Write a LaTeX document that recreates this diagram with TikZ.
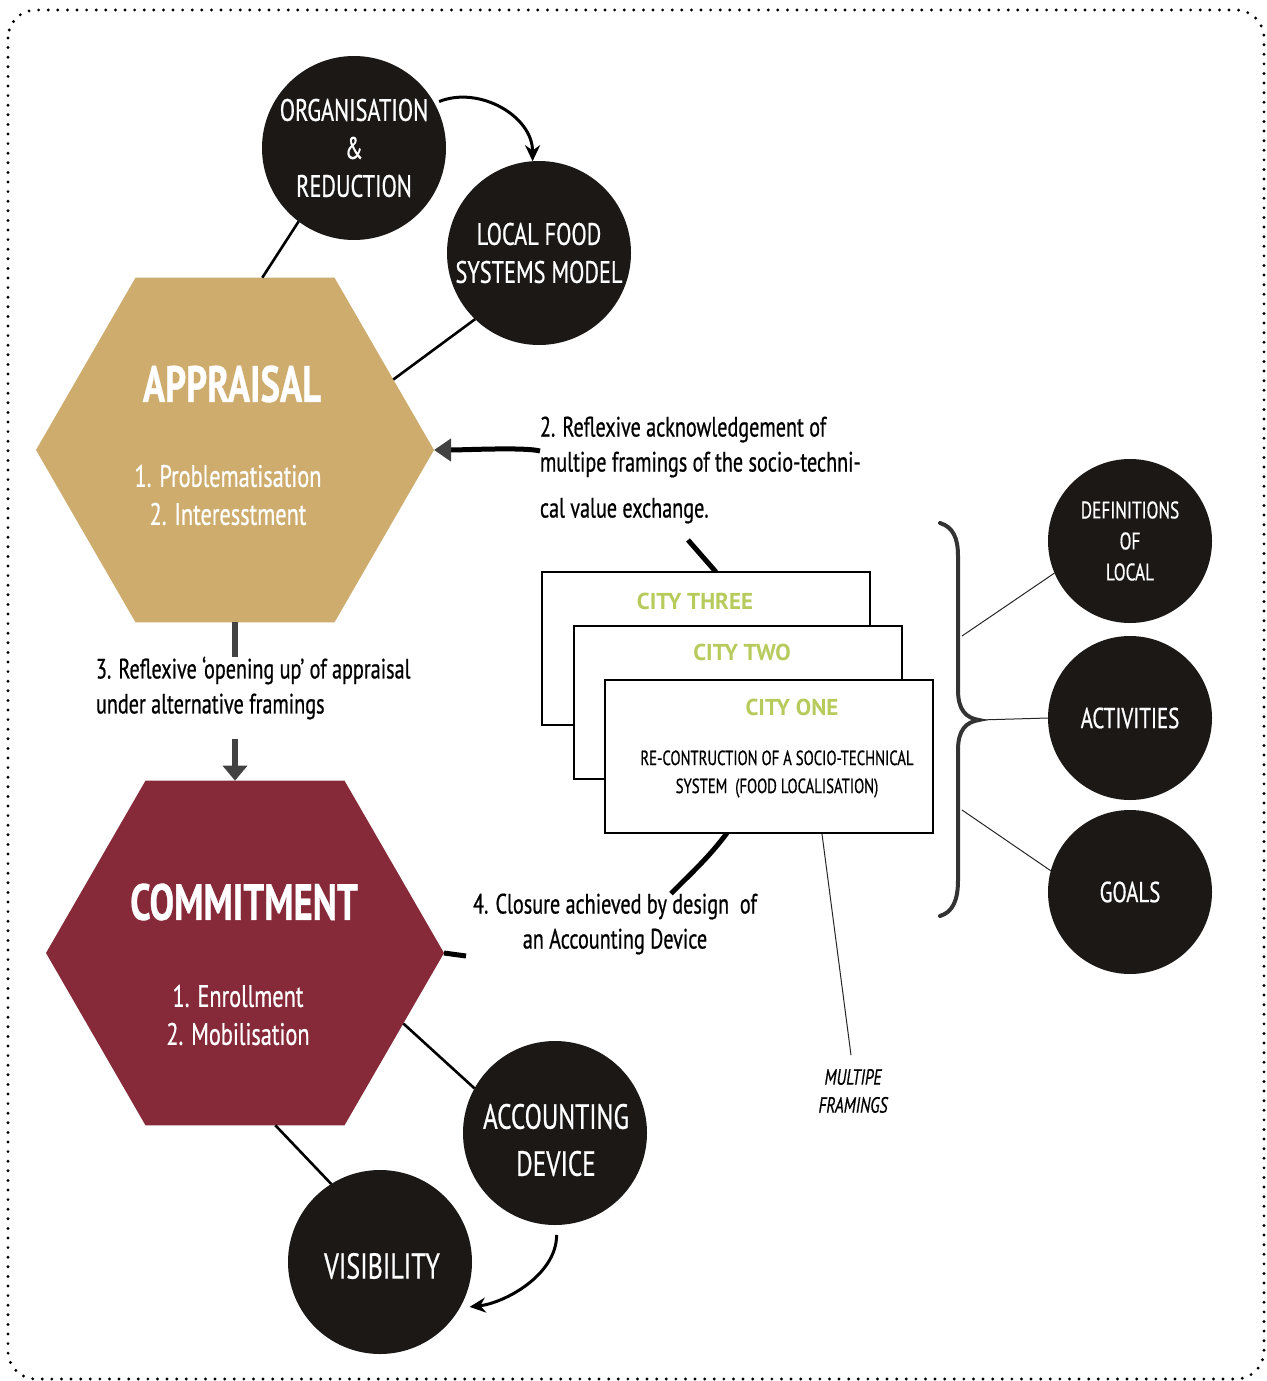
\documentclass[tikz,border=0pt]{standalone}
\usepackage{fontspec}
\setmainfont{PT Sans}[FakeStretch=0.72,FakeBold=0.6]
\newfontfamily\widefont{PT Sans}
\usetikzlibrary{shapes.geometric,arrows.meta,calc}

\definecolor{appraisalTan}{HTML}{CDAC6E}
\definecolor{commitRed}{HTML}{862939}
\definecolor{ink}{HTML}{1B1816}
\definecolor{cityGreen}{HTML}{B7CB5C}
\definecolor{tipGray}{HTML}{424242}

\newcommand{\pxfont}[2]{\fontsize{#1}{#2}\selectfont}

\begin{document}
\begin{tikzpicture}[x=1pt,y=-1pt,
  hexa/.style={regular polygon, regular polygon sides=6, minimum size=398pt,
    inner sep=0pt, outer sep=0pt},
  blob/.style={circle, fill=ink, text=white, inner sep=0pt, outer sep=0pt, align=center},
  txt/.style={inner sep=0pt, outer sep=0pt},
  citybox/.style={rectangle, draw=black, line width=2pt, fill=white,
    minimum width=328pt, minimum height=153pt, inner sep=0pt},
  citytitle/.style={txt, text=cityGreen, font=\widefont\bfseries\pxfont{23}{27}},
  link/.style={line width=2.6pt, draw=black},
  heavy/.style={line width=5pt, draw=black},
  hairline/.style={line width=1pt, draw=black!85},
  tick/.style={-{Stealth[length=16pt,width=15pt]}},
]
\useasboundingbox (0,0) rectangle (1266,1381);

% dotted frame
\draw[line width=3.2pt, line cap=round, dash pattern=on 0pt off 9.6pt,
  rounded corners=28pt] (8,10) rectangle (1264,1379);

% the two stages
\node[hexa, fill=appraisalTan] (appraisal) at (235,450) {};
\node[hexa, fill=commitRed] (commit) at (245,953) {};

\node[txt, text=white, font=\bfseries\pxfont{51}{58}] (appraisal-title) at (232,384) {APPRAISAL};
\node[txt, text=white, align=center, font=\pxfont{31}{38}] (appraisal-steps) at (228,495)
  {1. Problematisation\\2. Interesstment};
\node[txt, text=white, font=\bfseries\pxfont{51}{58}] (commit-title) at (244,902) {COMMITMENT};
\node[txt, text=white, align=center, font=\pxfont{31}{38}] (commit-steps) at (238,1015)
  {1. Enrollment\\2. Mobilisation};

% black discs
\node[blob, minimum size=184pt, font=\pxfont{31}{38}] (org) at (354,148)
  {ORGANISATION\\\&\\REDUCTION};
\node[blob, minimum size=184pt, font=\pxfont{31}{38}] (lfsm) at (539,253)
  {LOCAL FOOD\\SYSTEMS MODEL};
\node[blob, minimum size=164pt, font=\pxfont{24}{31}] (defs) at (1130,541)
  {DEFINITIONS\\OF\\LOCAL};
\node[blob, minimum size=164pt, font=\pxfont{29}{34}] (acts) at (1130,718) {ACTIVITIES};
\node[blob, minimum size=164pt, font=\pxfont{29}{34}] (goals) at (1130,892) {GOALS};
\node[blob, minimum size=184pt] (acc) at (555,1133) {};
\node[txt, text=white, align=center, font=\pxfont{35}{47}] (acc-text) at (556,1140)
  {ACCOUNTING\\DEVICE};
\node[blob, minimum size=184pt] (vis) at (380,1262) {};
\node[txt, text=white, font=\pxfont{36}{44}] (vis-text) at (382,1266) {VISIBILITY};

% links between discs and stages
\draw[link] (org.233) -- (appraisal.81.5);
\draw[link] (lfsm.226) -- (appraisal.24.6);
\draw[link] (commit.-24.6) -- (acc.151);
\draw[link] (commit.-80) -- (vis.122);
\draw[link, line width=3pt, tick, shorten <=5pt] (org.29)
  .. controls +(45,-18) and +(0,-45) .. (lfsm.94);
\draw[link, line width=3pt, tick, shorten <=10pt, shorten >=10pt] (acc.-89)
  .. controls +(0,50) and +(45,-5) .. (vis.-30);

% step labels
\node[txt, anchor=west, align=left, font=\pxfont{28}{35}] (lbl2) at (540,470)
  {2. Reflexive acknowledgement of\\multipe framings of the socio-techni-\\[11pt]cal value exchange.};
\node[txt, anchor=west, align=left, font=\pxfont{28}{35}] (lbl3) at (96,688)
  {3. Reflexive ‘opening up’ of appraisal\\under alternative framings};
\node[txt, align=center, font=\pxfont{28}{35}] (lbl4) at (615,924)
  {4. Closure achieved by design\ \ of\\an Accounting Device};

% step 2: back into appraisal
\coordinate (a2start) at (540,451);
\draw[heavy, -{Triangle[length=17pt,width=22pt,color=tipGray]}] (a2start)
  .. controls +(-15,-4) and +(30,0) .. (appraisal.east);

% step 3: appraisal down to commitment
\draw[line width=6pt, draw=tipGray] (appraisal.south) -- (appraisal.south |- lbl3.north);
\draw[line width=6pt, draw=tipGray, -{Triangle[length=15pt,width=24pt]}]
  ($(appraisal.south |- lbl3.south)+(0,20)$) -- (appraisal.south |- commit.north);

% step 2 and step 4 ties to the case boxes
\coordinate (c2top) at (688,540);
\draw[heavy] (c2top) -- (716,572);
\draw[heavy] (727,833) .. controls +(-18,24) and +(22,-22) .. ($(lbl4.north)+(56,0)$);
\coordinate (c4end) at (466,956);
\draw[heavy] (commit.east) -- (c4end);

% stacked case boxes
\node[citybox] (city3) at (706,648) {};
\node[citytitle] (city3-title) at (695,601) {CITY THREE};
\node[citybox] (city2) at (738,702) {};
\node[citytitle] (city2-title) at (742,652) {CITY TWO};
\node[citybox] (city1) at (769,756.5) {};
\node[citytitle] (city1-title) at (792,707) {CITY ONE};
\node[txt, align=center, font=\pxfont{20.5}{28}] (city1-text) at (777,774)
  {RE-CONTRUCTION OF A SOCIO-TECHNICAL\\SYSTEM\ \ (FOOD LOCALISATION)};

% multiple framings pointer
\node[txt, align=center, font=\itshape\pxfont{22}{28}] (mf) at (853,1091) {MULTIPE\\FRAMINGS};
\draw[hairline] ($(city1.south west)+(218,0)$) -- ($(mf.north)+(-2,-14)$);

% brace grouping the three dimensions
\coordinate (bracetip) at (979,720);
\coordinate (braceup) at (962,636);
\coordinate (bracedown) at (962,810);
\draw[line width=4pt, draw=black!80, line cap=round] (940,523)
  .. controls (953,527) and (958,538) .. (958,556) -- (958,690)
  .. controls (958,710) and (966,718) .. (bracetip)
  .. controls (966,722) and (958,730) .. (958,750) -- (958,880)
  .. controls (958,900) and (953,912) .. (940,916);
\draw[hairline] (braceup) -- (defs.203);
\draw[hairline] (bracetip) -- (acts.west);
\draw[hairline] (bracedown) -- (goals.165);
\end{tikzpicture}
\end{document}
